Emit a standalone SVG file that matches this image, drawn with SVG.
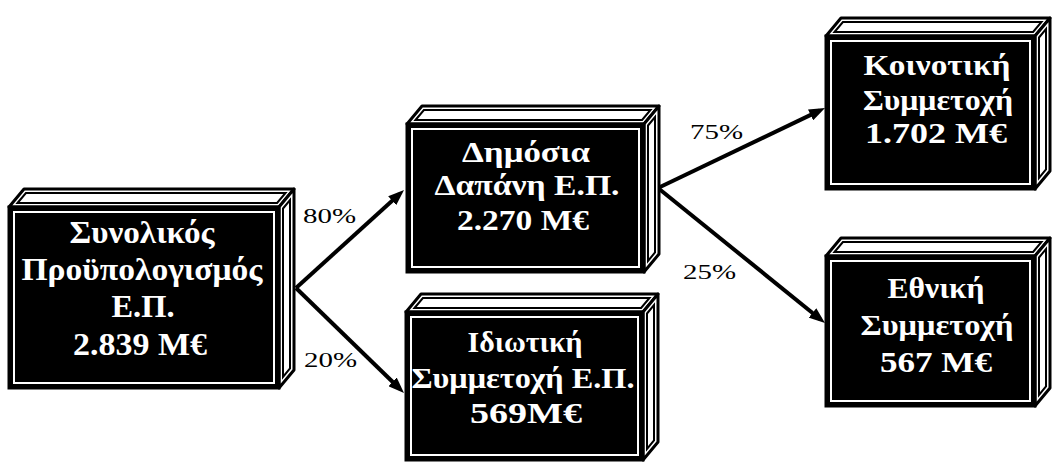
<svg xmlns="http://www.w3.org/2000/svg" width="1052" height="462" viewBox="0 0 1052 462">
<style>
.face{fill:#fff;stroke:#000;stroke-width:3;stroke-linejoin:round}
.inner{fill:none;stroke:#000;stroke-width:2}
.front{fill:#000;stroke:#000;stroke-width:3}
.rim{fill:none;stroke:#fff;stroke-width:2}
.bt{font-family:"Liberation Serif","Times New Roman",serif;font-weight:bold;fill:#fff;text-anchor:middle}
.lbl{font-family:"Liberation Serif","Times New Roman",serif;font-size:20px;fill:#000}
.conn{stroke:#000;stroke-width:4;fill:none}
</style>
<defs>
<marker id="ah" viewBox="0 0 16 12" refX="10" refY="6" markerWidth="16" markerHeight="12" orient="auto" markerUnits="userSpaceOnUse">
<path d="M0,0 L16,6 L0,12 z" fill="#000"/>
</marker>
</defs>
<rect width="1052" height="462" fill="#fff"/>

<g id="connectors">
<line class="conn" x1="296" y1="288" x2="399.6" y2="194" marker-end="url(#ah)"/>
<line class="conn" x1="296" y1="288" x2="399.7" y2="388.8" marker-end="url(#ah)"/>
<line class="conn" x1="658" y1="188" x2="819.6" y2="110.6" marker-end="url(#ah)"/>
<line class="conn" x1="658" y1="188" x2="820.3" y2="319.2" marker-end="url(#ah)"/>
<text class="lbl" x="303" y="223" textLength="53" lengthAdjust="spacingAndGlyphs">80%</text>
<text class="lbl" x="304" y="367" textLength="53" lengthAdjust="spacingAndGlyphs">20%</text>
<text class="lbl" x="690" y="139" textLength="53" lengthAdjust="spacingAndGlyphs">75%</text>
<text class="lbl" x="683" y="279" textLength="53" lengthAdjust="spacingAndGlyphs">25%</text>
</g>

<!-- Box 1: w=270 h=181 -->
<g id="n1" transform="translate(9,207)">
<polygon class="face" points="0,0 15,-18 285,-18 270,0"/>
<polygon class="inner" points="8.5,-4 16.9,-14 276.5,-14 268.1,-4"/>
<polygon class="face" points="270,0 285,-18 285,163 270,181"/>
<polygon class="inner" points="274,1.5 281,-7 281,161.5 274,170"/>
<rect class="front" x="0" y="0" width="270" height="181"/>
<rect class="rim" x="5" y="5" width="260" height="171"/>
<text class="bt" font-size="31" x="133" y="36" textLength="145" lengthAdjust="spacingAndGlyphs">Συνολικός</text>
<text class="bt" font-size="31" x="133" y="73" textLength="241" lengthAdjust="spacingAndGlyphs">Προϋπολογισμός</text>
<text class="bt" font-size="31" x="134" y="110" textLength="63" lengthAdjust="spacingAndGlyphs">Ε.Π.</text>
<text class="bt" font-size="31" x="131" y="148" textLength="134" lengthAdjust="spacingAndGlyphs">2.839 Μ€</text>
</g>

<!-- Box 2: w=237 h=148 -->
<g id="n2" transform="translate(407,124)">
<polygon class="face" points="0,0 15,-18 252,-18 237,0"/>
<polygon class="inner" points="8.5,-4 16.9,-14 243.5,-14 235.1,-4"/>
<polygon class="face" points="237,0 252,-18 252,130 237,148"/>
<polygon class="inner" points="241,1.5 248,-7 248,128.5 241,137"/>
<rect class="front" x="0" y="0" width="237" height="148"/>
<rect class="rim" x="5" y="5" width="227" height="138"/>
<text class="bt" font-size="29" x="119" y="38" textLength="128" lengthAdjust="spacingAndGlyphs">Δημόσια</text>
<text class="bt" font-size="29" x="120" y="71" textLength="185" lengthAdjust="spacingAndGlyphs">Δαπάνη Ε.Π.</text>
<text class="bt" font-size="29" x="116" y="106" textLength="132" lengthAdjust="spacingAndGlyphs">2.270 Μ€</text>
</g>

<!-- Box 3: w=237 h=148 -->
<g id="n3" transform="translate(406,312)">
<polygon class="face" points="0,0 15,-18 252,-18 237,0"/>
<polygon class="inner" points="8.5,-4 16.9,-14 243.5,-14 235.1,-4"/>
<polygon class="face" points="237,0 252,-18 252,130 237,148"/>
<polygon class="inner" points="241,1.5 248,-7 248,128.5 241,137"/>
<rect class="front" x="0" y="0" width="237" height="148"/>
<rect class="rim" x="5" y="5" width="227" height="138"/>
<text class="bt" font-size="29" x="119" y="40" textLength="115" lengthAdjust="spacingAndGlyphs">Ιδιωτική</text>
<text class="bt" font-size="29" x="117" y="76" textLength="223" lengthAdjust="spacingAndGlyphs">Συμμετοχή Ε.Π.</text>
<text class="bt" font-size="29" x="120" y="111" textLength="112" lengthAdjust="spacingAndGlyphs">569Μ€</text>
</g>

<!-- Box 4: w=209 h=153 -->
<g id="n4" transform="translate(826,36)">
<polygon class="face" points="0,0 15,-18 224,-18 209,0"/>
<polygon class="inner" points="8.5,-4 16.9,-14 215.5,-14 207.1,-4"/>
<polygon class="face" points="209,0 224,-18 224,135 209,153"/>
<polygon class="inner" points="213,1.5 220,-7 220,133.5 213,142"/>
<rect class="front" x="0" y="0" width="209" height="153"/>
<rect class="rim" x="5" y="5" width="199" height="143"/>
<text class="bt" font-size="29" x="111" y="39" textLength="147" lengthAdjust="spacingAndGlyphs">Κοινοτική</text>
<text class="bt" font-size="29" x="112" y="74" textLength="150" lengthAdjust="spacingAndGlyphs">Συμμετοχή</text>
<text class="bt" font-size="29" x="110" y="107" textLength="142" lengthAdjust="spacingAndGlyphs">1.702 Μ€</text>
</g>

<!-- Box 5: w=209 h=150 -->
<g id="n5" transform="translate(826,256)">
<polygon class="face" points="0,0 15,-18 224,-18 209,0"/>
<polygon class="inner" points="8.5,-4 16.9,-14 215.5,-14 207.1,-4"/>
<polygon class="face" points="209,0 224,-18 224,132 209,150"/>
<polygon class="inner" points="213,1.5 220,-7 220,130.5 213,139"/>
<rect class="front" x="0" y="0" width="209" height="150"/>
<rect class="rim" x="5" y="5" width="199" height="140"/>
<text class="bt" font-size="29" x="110" y="42" textLength="97" lengthAdjust="spacingAndGlyphs">Εθνική</text>
<text class="bt" font-size="29" x="111" y="79" textLength="153" lengthAdjust="spacingAndGlyphs">Συμμετοχή</text>
<text class="bt" font-size="29" x="110" y="116" textLength="112" lengthAdjust="spacingAndGlyphs">567 Μ€</text>
</g>
</svg>
